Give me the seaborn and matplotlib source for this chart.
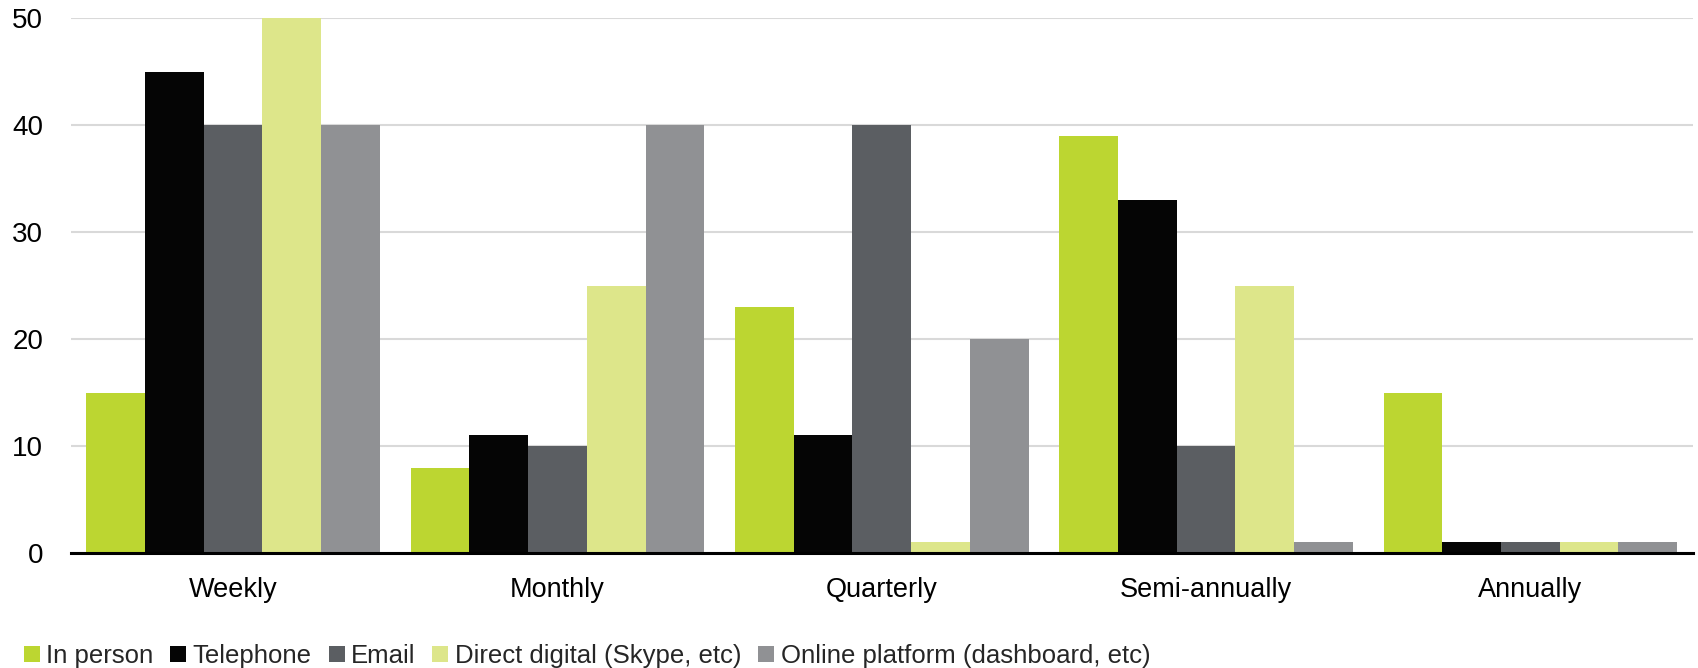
import matplotlib
matplotlib.use("Agg")
import matplotlib.pyplot as plt
from matplotlib.patches import Patch
import seaborn as sns
import pandas as pd

categories = ["Weekly", "Monthly", "Quarterly", "Semi-annually", "Annually"]
series_names = ["In person", "Telephone", "Email", "Direct digital (Skype, etc)",
                "Online platform (dashboard, etc)"]
in_person = [15, 8, 23, 39, 15]
telephone = [45, 11, 11, 33, 1]
email = [40, 10, 40, 10, 1]
direct_digital = [50, 25, 1, 25, 1]
online_platform = [40, 40, 20, 1, 1]
colors = ["#BCD631", "#050505", "#5B5E62", "#DDE68A", "#909194"]
y_ticks = [0, 10, 20, 30, 40, 50]

series_values = [in_person, telephone, email, direct_digital, online_platform]
rows = []
for name, vals in zip(series_names, series_values):
    for cat, v in zip(categories, vals):
        rows.append({"Frequency": cat, "Channel": name, "Value": v})
df = pd.DataFrame(rows)

sns.set_theme(style="white")
plt.rcParams["font.family"] = ["Liberation Sans", "DejaVu Sans"]

fig = plt.figure(figsize=(16.98, 6.68), dpi=100)
ax = fig.add_axes([0.0418, 0.172, 0.955, 0.8005])

sns.barplot(data=df, x="Frequency", y="Value", hue="Channel",
            order=categories, hue_order=series_names,
            palette=colors, width=0.905, gap=0, saturation=1,
            linewidth=0, errorbar=None, legend=False, ax=ax, zorder=3)

ax.set_xlim(-0.5, 4.5)
ax.set_ylim(0, 50)
ax.set_yticks(y_ticks)
ax.set_xlabel("")
ax.set_ylabel("")
ax.yaxis.grid(True, color="#D9D9D9", linewidth=1.5, zorder=0)
ax.set_axisbelow(True)
for side in ["left", "right", "top"]:
    ax.spines[side].set_visible(False)
ax.spines["bottom"].set_color("#000000")
ax.spines["bottom"].set_linewidth(2.2)
ax.spines["bottom"].set_zorder(5)
ax.tick_params(axis="both", length=0, colors="#000000")
ax.tick_params(axis="x", labelsize=19.5, pad=17)
ax.tick_params(axis="y", labelsize=20, pad=20)

handles = [Patch(facecolor=c, edgecolor="none", label=n) for c, n in zip(colors, series_names)]
fig.legend(handles=handles, loc="lower left", bbox_to_anchor=(0.014, 0.0),
           ncol=5, frameon=False, fontsize=18.5, handlelength=0.62, handleheight=0.62,
           handletextpad=0.25, columnspacing=0.66, borderpad=0.0, borderaxespad=0.0)

fig.savefig("out.png", dpi=100)
